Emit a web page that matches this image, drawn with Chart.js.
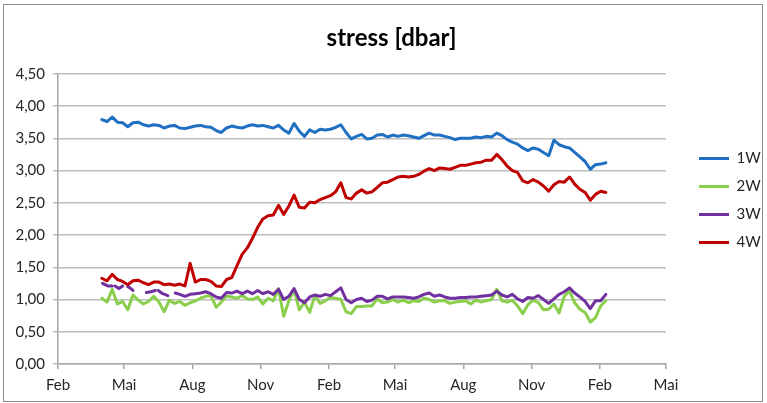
<!DOCTYPE html>
<html>
<head>
<meta charset="utf-8">
<script src="https://cdn.jsdelivr.net/npm/chart.js@4.4.1/dist/chart.umd.min.js"></script>
<style>
  html, body { margin: 0; padding: 0; background: #fff; }
  #wrap { position: relative; width: 767px; height: 403px; }
  #chart { position: absolute; left: 0; top: 0; }
  #frame { position: absolute; left: 3px; top: 4px; width: 758px; height: 396px; border: 1px solid #8c8c8c; pointer-events: none; }
</style>
</head>
<body>
<div id="wrap">
  <canvas id="chart" width="767" height="403"></canvas>
  <div id="frame"></div>
</div>
<script>
// axis: days counted from 1 Feb 2013, ticks every three months
const AXIS_START = "2013-02-01";
const TICK_DATES = ["2013-02-01", "2013-05-01", "2013-08-01", "2013-11-01", "2014-02-01",
  "2014-05-01", "2014-08-01", "2014-11-01", "2015-02-01", "2015-05-01"];
const TICK_LABELS = ["Feb", "Mai", "Aug", "Nov", "Feb", "Mai", "Aug", "Nov", "Feb", "Mai"];

const SERIES_NAMES = ["1W", "2W", "3W", "4W"];
const SERIES_COLORS = ["#1f6fc2", "#8acf4b", "#7030a0", "#c00000"];

// weekly readings
const DATES = [
  "2013-04-01", "2013-04-08", "2013-04-15", "2013-04-22", "2013-04-29",
  "2013-05-06", "2013-05-13", "2013-05-20", "2013-05-27",
  "2013-06-03", "2013-06-10", "2013-06-17", "2013-06-24",
  "2013-07-01", "2013-07-08", "2013-07-15", "2013-07-22", "2013-07-29",
  "2013-08-05", "2013-08-12", "2013-08-19", "2013-08-26",
  "2013-09-02", "2013-09-09", "2013-09-16", "2013-09-23", "2013-09-30",
  "2013-10-07", "2013-10-14", "2013-10-21", "2013-10-28",
  "2013-11-04", "2013-11-11", "2013-11-18", "2013-11-25",
  "2013-12-02", "2013-12-09", "2013-12-16", "2013-12-23", "2013-12-30",
  "2014-01-06", "2014-01-13", "2014-01-20", "2014-01-27",
  "2014-02-03", "2014-02-10", "2014-02-17", "2014-02-24",
  "2014-03-03", "2014-03-10", "2014-03-17", "2014-03-24", "2014-03-31",
  "2014-04-07", "2014-04-14", "2014-04-21", "2014-04-28",
  "2014-05-05", "2014-05-12", "2014-05-19", "2014-05-26",
  "2014-06-02", "2014-06-09", "2014-06-16", "2014-06-23", "2014-06-30",
  "2014-07-07", "2014-07-14", "2014-07-21", "2014-07-28",
  "2014-08-04", "2014-08-11", "2014-08-18", "2014-08-25",
  "2014-09-01", "2014-09-08", "2014-09-15", "2014-09-22", "2014-09-29",
  "2014-10-06", "2014-10-13", "2014-10-20", "2014-10-27",
  "2014-11-03", "2014-11-10", "2014-11-17", "2014-11-24",
  "2014-12-01", "2014-12-08", "2014-12-15", "2014-12-22", "2014-12-29",
  "2015-01-05", "2015-01-12", "2015-01-19", "2015-01-26",
  "2015-02-02", "2015-02-09"
];

const VALUES_1W = [
  3.79, 3.76, 3.83, 3.75, 3.74, 3.68, 3.74, 3.75, 3.71, 3.69,
  3.71, 3.70, 3.66, 3.69, 3.70, 3.66, 3.65, 3.67, 3.69, 3.70,
  3.68, 3.67, 3.62, 3.59, 3.66, 3.69, 3.67, 3.66, 3.69, 3.71,
  3.69, 3.70, 3.68, 3.66, 3.70, 3.63, 3.58, 3.73, 3.61, 3.53,
  3.63, 3.59, 3.64, 3.63, 3.64, 3.67, 3.71, 3.59, 3.49, 3.53,
  3.56, 3.49, 3.50, 3.55, 3.56, 3.52, 3.55, 3.53, 3.55, 3.54,
  3.52, 3.50, 3.54, 3.58, 3.55, 3.55, 3.53, 3.51, 3.48, 3.50,
  3.50, 3.50, 3.52, 3.51, 3.53, 3.52, 3.58, 3.54, 3.48, 3.44,
  3.41, 3.35, 3.31, 3.35, 3.33, 3.28, 3.23, 3.47, 3.40, 3.37,
  3.35, 3.28, 3.21, 3.14, 3.02, 3.09, 3.10, 3.12
];

const VALUES_2W = [
  1.02, 0.96, 1.16, 0.93, 0.97, 0.84, 1.07, 0.99, 0.93, 0.97,
  1.05, 0.96, 0.81, 0.99, 0.94, 0.97, 0.91, 0.95, 0.98, 1.02,
  1.05, 1.06, 0.88, 0.96, 1.05, 1.04, 1.02, 1.06, 1.01, 1.00,
  1.04, 0.93, 1.02, 0.98, 1.17, 0.74, 0.98, 1.15, 0.84, 0.96,
  0.80, 1.06, 0.94, 0.98, 1.03, 1.02, 1.00, 0.81, 0.78, 0.89,
  0.89, 0.90, 0.90, 1.01, 0.95, 0.96, 1.00, 0.96, 0.99, 0.95,
  0.98, 0.97, 1.02, 1.00, 0.96, 0.98, 0.98, 0.94, 0.96, 0.97,
  0.98, 0.93, 0.99, 0.96, 0.98, 1.00, 1.16, 0.98, 0.96, 0.99,
  0.90, 0.78, 0.92, 0.99, 0.95, 0.84, 0.85, 0.93, 0.79, 1.05,
  1.13, 0.95, 0.85, 0.80, 0.65, 0.72, 0.90, 0.98
];

// 3W has holes in its first months (null = no reading)
const DATES_3W_EARLY = [
  "2013-04-02", "2013-04-09", "2013-04-15", "2013-04-17", "2013-04-19", "2013-04-24",
  "2013-04-29", "2013-05-02", "2013-05-06", "2013-05-10", "2013-05-13", "2013-05-22",
  "2013-05-31", "2013-06-06", "2013-06-12", "2013-06-14", "2013-06-16", "2013-06-22",
  "2013-06-29", "2013-07-03", "2013-07-09"
];
const VALUES_3W_EARLY = [
  1.25, 1.21, 1.21, null, 1.21, 1.17,
  1.21, null, 1.20, 1.17, 1.14, null,
  1.11, 1.12, 1.14, null, 1.14, 1.09,
  1.06, null, 1.10
];
// weekly from 2013-07-15 (DATES index 15) on
const VALUES_3W = [
  1.08, 1.05, 1.08, 1.09, 1.10, 1.12, 1.09, 1.04, 1.02, 1.11,
  1.10, 1.13, 1.09, 1.13, 1.09, 1.14, 1.09, 1.12, 1.08, 1.16,
  1.00, 1.05, 1.17, 1.00, 0.95, 1.04, 1.07, 1.05, 1.08, 1.06,
  1.12, 1.18, 1.00, 0.95, 1.00, 1.02, 0.97, 0.99, 1.05, 1.05,
  1.01, 1.04, 1.04, 1.04, 1.03, 1.02, 1.04, 1.08, 1.10, 1.05,
  1.07, 1.04, 1.02, 1.02, 1.03, 1.03, 1.04, 1.04, 1.05, 1.06,
  1.07, 1.13, 1.07, 1.04, 1.08, 1.01, 0.97, 1.03, 1.02, 1.06,
  1.00, 0.94, 1.01, 1.08, 1.12, 1.18, 1.10, 1.04, 0.97, 0.86,
  0.98, 0.98, 1.08
];

const VALUES_4W = [
  1.33, 1.29, 1.39, 1.31, 1.28, 1.23, 1.29, 1.30, 1.26, 1.23,
  1.27, 1.27, 1.23, 1.24, 1.22, 1.24, 1.21, 1.56, 1.27, 1.31,
  1.31, 1.28, 1.21, 1.20, 1.31, 1.34, 1.52, 1.70, 1.80, 1.95,
  2.12, 2.25, 2.30, 2.31, 2.46, 2.32, 2.45, 2.62, 2.43, 2.42,
  2.51, 2.50, 2.55, 2.58, 2.61, 2.67, 2.81, 2.58, 2.56, 2.65,
  2.70, 2.65, 2.67, 2.74, 2.81, 2.82, 2.86, 2.90, 2.91, 2.90,
  2.91, 2.94, 2.99, 3.03, 3.00, 3.04, 3.03, 3.02, 3.05, 3.08,
  3.08, 3.10, 3.12, 3.13, 3.16, 3.16, 3.25, 3.17, 3.07, 3.00,
  2.97, 2.84, 2.81, 2.86, 2.82, 2.76, 2.68, 2.78, 2.83, 2.82,
  2.90, 2.79, 2.71, 2.66, 2.54, 2.63, 2.68, 2.66
];

const Y_MIN = 0;
const Y_MAX = 4.5;
const Y_STEP = 0.5;

const FONT = "Lato, 'Open Sans', sans-serif";

function dayNumber(iso) {
  const [y, m, d] = iso.split("-").map(Number);
  const [y0, m0, d0] = AXIS_START.split("-").map(Number);
  return Math.round((Date.UTC(y, m - 1, d) - Date.UTC(y0, m0 - 1, d0)) / 86400000);
}

function points(dates, values) {
  return dates.map((d, i) => ({ x: dayNumber(d), y: values[i] }));
}

const tickDays = TICK_DATES.map(dayNumber);

const seriesData = [
  points(DATES, VALUES_1W),
  points(DATES, VALUES_2W),
  points(DATES_3W_EARLY.concat(DATES.slice(15)), VALUES_3W_EARLY.concat(VALUES_3W)),
  points(DATES, VALUES_4W),
];

// legend sits a bit right of the plot, like the excel one
const LEGEND_WIDTH = 101;
const LEGEND_SHIFT = 20;
const legendPlacement = {
  id: "legendPlacement",
  beforeLayout(chart) {
    const legend = chart.legend;
    if (!legend || legend._wrapped) return;
    const fit = legend.fit;
    legend.fit = function () {
      fit.call(this);
      this.width = LEGEND_WIDTH;
    };
    legend._wrapped = true;
  },
  afterLayout(chart) {
    chart.legend.left += LEGEND_SHIFT;
    chart.legend.right += LEGEND_SHIFT;
  },
};

new Chart(document.getElementById("chart"), {
  type: "line",
  data: {
    datasets: SERIES_NAMES.map((name, i) => ({
      label: name,
      data: seriesData[i],
      borderColor: SERIES_COLORS[i],
      backgroundColor: SERIES_COLORS[i],
      borderWidth: 3,
      pointRadius: 0,
      pointStyle: "line",
      tension: 0,
      spanGaps: false,
      borderJoinStyle: "round",
      borderCapStyle: "round",
      order: SERIES_NAMES.length - i, // later series on top
    })),
  },
  options: {
    responsive: false,
    animation: false,
    layout: { padding: { left: 16, right: 0, top: 8, bottom: 10 } },
    plugins: {
      title: {
        display: true,
        text: "stress [dbar]",
        color: "#000",
        font: { family: FONT, size: 24, weight: "bold" },
        padding: { top: 16, bottom: 21 },
      },
      legend: {
        position: "right",
        align: "center",
        labels: {
          usePointStyle: true,
          pointStyle: "line",
          pointStyleWidth: 30,
          color: "#262626",
          padding: 13,
          font: { family: FONT, size: 15 },
          sort: (a, b) => a.datasetIndex - b.datasetIndex,
        },
      },
      tooltip: { enabled: false },
    },
    scales: {
      x: {
        type: "linear",
        min: tickDays[0],
        max: tickDays[tickDays.length - 1],
        afterBuildTicks: (scale) => {
          scale.ticks = tickDays.map((v) => ({ value: v }));
        },
        afterFit: (scale) => { scale.height = 29; },
        ticks: {
          autoSkip: false,
          maxRotation: 0,
          padding: 7,
          color: "#262626",
          font: { family: FONT, size: 15 },
          callback: (value, index) => TICK_LABELS[index],
        },
        grid: {
          drawOnChartArea: false,
          drawTicks: true,
          tickLength: 5,
          color: "#a6a6a6",
          lineWidth: 1.5,
        },
        border: { color: "#a6a6a6", width: 1.5 },
      },
      y: {
        min: Y_MIN,
        max: Y_MAX,
        afterFit: (scale) => { scale.width = 42; },
        ticks: {
          stepSize: Y_STEP,
          padding: 8,
          color: "#262626",
          font: { family: FONT, size: 15 },
          callback: (v) => v.toFixed(2).replace(".", ","),
        },
        grid: {
          color: "#bdbdbd",
          lineWidth: 1.5,
          tickLength: 5,
        },
        border: { color: "#a6a6a6", width: 1.5 },
      },
    },
  },
  plugins: [legendPlacement],
});
</script>
</body>
</html>
